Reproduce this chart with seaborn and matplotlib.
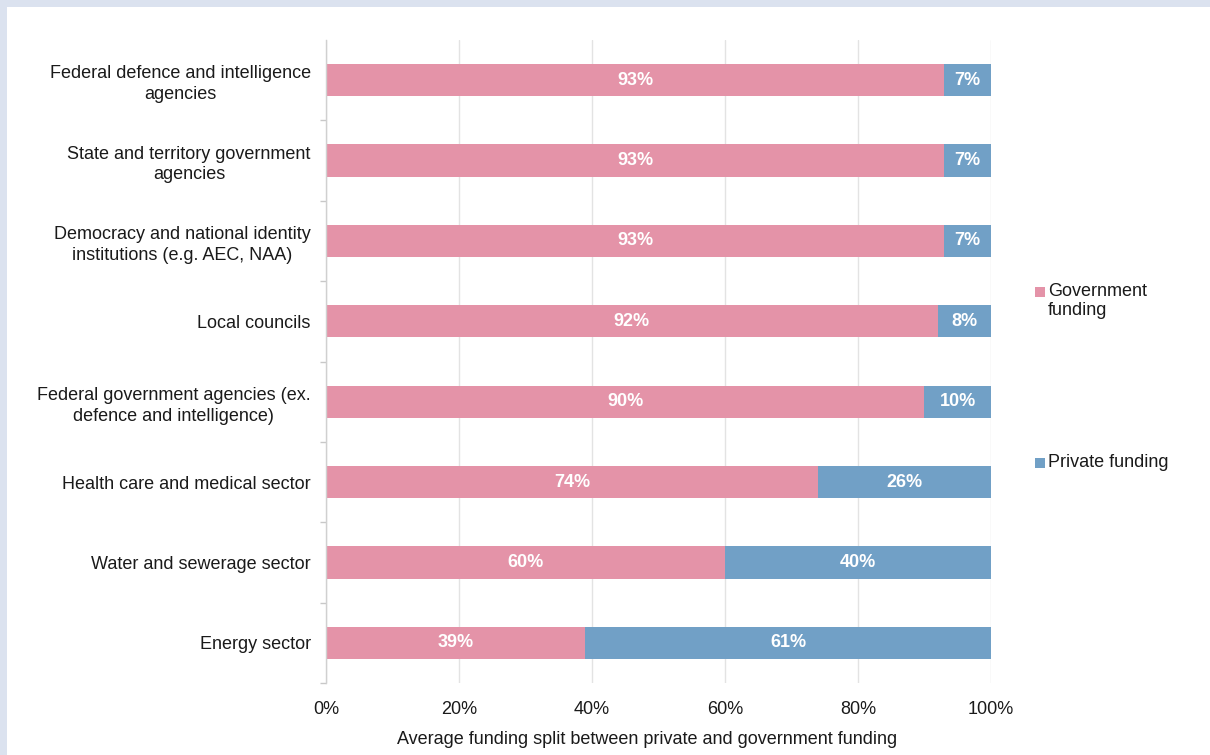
import matplotlib
matplotlib.use("Agg")
import matplotlib.pyplot as plt
from matplotlib.patches import Rectangle
from matplotlib.ticker import FixedLocator, PercentFormatter
import seaborn as sns
import pandas as pd

categories = [
    "Federal defence and intelligence\nagencies",
    "State and territory government\nagencies",
    "Democracy and national identity\ninstitutions (e.g. AEC, NAA)",
    "Local councils",
    "Federal government agencies (ex.\ndefence and intelligence)",
    "Health care and medical sector",
    "Water and sewerage sector",
    "Energy sector",
]
government = [93, 93, 93, 92, 90, 74, 60, 39]
private = [7, 7, 7, 8, 10, 26, 40, 61]
series_names = ["Government\nfunding", "Private funding"]
x_ticks = [0, 20, 40, 60, 80, 100]
x_label = "Average funding split between private and government funding"

GOV_COLOR = "#e493a8"
PRIV_COLOR = "#71a0c6"
GRID_COLOR = "#e3e3e3"
TEXT_COLOR = "#1a1a1a"
FS = 13

df = pd.DataFrame({"category": categories, "government": government, "private": private})
df["total"] = df["government"] + df["private"]

sns.set_theme(style="white")
plt.rcParams["font.family"] = ["Liberation Sans", "DejaVu Sans"]

fig = plt.figure(figsize=(12.1, 7.55), dpi=100)
fig.patch.set_facecolor("#dbe2ef")
# white canvas inset from the top and left edges
fig.add_artist(Rectangle((7 / 1210, 0), 1, 1 - 7 / 755, transform=fig.transFigure,
                         facecolor="white", edgecolor="none", zorder=0))

ax = fig.add_axes([326 / 1210, 1 - 683 / 755, 665 / 1210, 643 / 755])
ax.set_facecolor("none")

# stacked bars: full total in blue, government share over it in pink
sns.barplot(data=df, x="total", y="category", color=PRIV_COLOR, orient="h",
            width=0.4, saturation=1, linewidth=0, ax=ax, zorder=3)
sns.barplot(data=df, x="government", y="category", color=GOV_COLOR, orient="h",
            width=0.4, saturation=1, linewidth=0, ax=ax, zorder=4)

for i, (g, p) in enumerate(zip(df["government"], df["private"])):
    ax.text(g / 2, i, f"{g}%", ha="center", va="center", color="white",
            fontsize=FS, fontweight="bold", zorder=5)
    ax.text(g + p / 2, i, f"{p}%", ha="center", va="center", color="white",
            fontsize=FS, fontweight="bold", zorder=5)

ax.set_xlim(0, 100)
ax.set_ylim(len(categories) - 0.5, -0.5)
ax.xaxis.set_major_locator(FixedLocator(x_ticks))
ax.xaxis.set_major_formatter(PercentFormatter(decimals=0))
ax.grid(axis="x", color=GRID_COLOR, linewidth=1, zorder=0)
ax.grid(axis="y", visible=False)
ax.set_axisbelow(True)

for side in ["top", "right", "bottom"]:
    ax.spines[side].set_visible(False)
ax.spines["left"].set_color("#d0d0d0")
ax.spines["left"].set_linewidth(1)
ax.spines["left"].set_zorder(6)

ax.tick_params(axis="x", length=0, pad=13, labelsize=FS, labelcolor=TEXT_COLOR)
ax.tick_params(axis="y", which="major", left=False, length=0, pad=11,
               labelsize=FS, labelcolor=TEXT_COLOR)
ax.yaxis.set_minor_locator(FixedLocator([i - 0.5 for i in range(1, len(categories) + 1)]))
ax.tick_params(axis="y", which="minor", left=True, length=4, width=1,
               color="#c8c8c8", direction="out")
for lbl in ax.get_yticklabels():
    lbl.set_multialignment("center")
    lbl.set_linespacing(1.3)

ax.set_ylabel("")
ax.set_xlabel(x_label, fontsize=FS, color=TEXT_COLOR, labelpad=10)
ax.xaxis.set_label_coords((647 - 326) / 665, -(740 - 683) / 643)
ax.xaxis.label.set_va("center")

# legend entries on the right
legend_items = [(series_names[0], GOV_COLOR, 292), (series_names[1], PRIV_COLOR, 463)]
for name, color, ypix in legend_items:
    fig.add_artist(Rectangle((1035 / 1210, 1 - (ypix + 5) / 755), 10 / 1210, 10 / 755,
                             transform=fig.transFigure, facecolor=color, edgecolor="none"))
    fig.text(1048 / 1210, 1 - (ypix - 9) / 755, name, ha="left", va="top",
             fontsize=FS, color=TEXT_COLOR, linespacing=1.15)

fig.savefig("out.png", dpi=100, facecolor=fig.get_facecolor())
